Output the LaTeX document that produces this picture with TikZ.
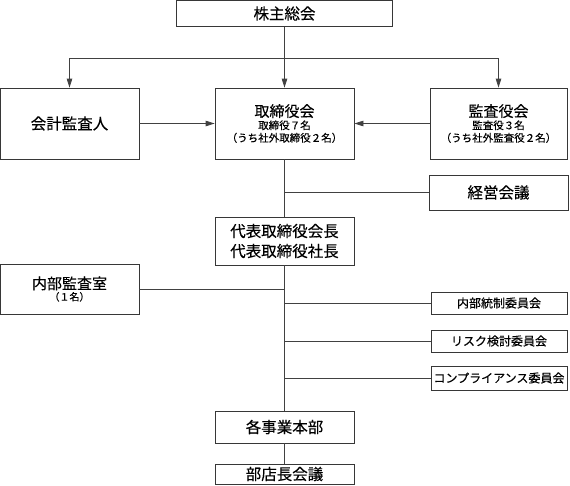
\documentclass[tikz,border=0pt]{standalone}
\usepackage{fontspec}
\newfontfamily\jpfont[FakeBold=0.3]{Noto Sans CJK JP}
\usetikzlibrary{arrows.meta}

\newcommand{\mainsize}{\fontsize{15}{15}\selectfont}
\newcommand{\subsize}{\fontsize{10.5}{12.5}\selectfont}

\tikzset{every picture/.style={line width=0.8pt}}
\tikzset{
	orgbox/.style={draw={rgb, 255:red, 55; green, 55; blue, 55}, fill=white, inner sep=0pt, align=center, font=\jpfont\fontsize{15.5}{20}\selectfont},
	smallbox/.style={orgbox, font=\jpfont\fontsize{12}{14}\selectfont},
	link/.style={draw={rgb, 255:red, 65; green, 65; blue, 65}},
	linkarrow/.style={link, -{Triangle[length=9pt,width=5.5pt]}},
}

\begin{document}
\begin{tikzpicture}[x=1pt,y=1pt,yscale=-1,xscale=1]
	\useasboundingbox (0,0) rectangle (570,485);

	% Top
	\node [orgbox, minimum width=216, minimum height=26] (soukai) at (284.5,13.5) {株主総会};

	% Board row
	\node [orgbox, minimum width=139, minimum height=71] (kaikei) at (69.5,123.5) {会計監査人};
	\node [orgbox, minimum width=139, minimum height=71, font=\jpfont\subsize] (torishimari) at (284.5,123.5) {{\mainsize 取締役会}\\取締役７名\\（うち社外取締役２名）};
	\node [orgbox, minimum width=137, minimum height=71, font=\jpfont\subsize] (kansa) at (498.5,123.5) {{\mainsize 監査役会}\\監査役３名\\（うち社外監査役２名）};

	% Management
	\node [orgbox, minimum width=139, minimum height=35] (keiei) at (498.5,192.5) {経営会議};
	\node [orgbox, minimum width=139, minimum height=48] (daihyo) at (284.5,241) {代表取締役会長\\代表取締役社長};
	\node [orgbox, minimum width=139, minimum height=50, font=\jpfont\fontsize{10}{11.5}\selectfont] (naibukansa) at (69.5,289) {{\mainsize 内部監査室}\\（１名）};

	% Committees
	\node [smallbox, minimum width=136, minimum height=22] (tousei) at (499,303) {内部統制委員会};
	\node [smallbox, minimum width=136, minimum height=22] (risk) at (499,341) {リスク検討委員会};
	\node [smallbox, minimum width=136, minimum height=24] (comp) at (499,378) {コンプライアンス委員会};

	% Bottom
	\node [orgbox, minimum width=139, minimum height=32] (jigyou) at (284.5,427) {各事業本部};
	\node [orgbox, minimum width=139, minimum height=20] (buten) at (284.5,474) {部店長会議};

	% Connections
	\coordinate (split) at (284.5,58);
	\draw [linkarrow] (soukai) -- (torishimari);
	\draw [linkarrow] (split) -| (kaikei);
	\draw [linkarrow] (split) -| (kansa);
	\draw [linkarrow] (kaikei) -- (torishimari);
	\draw [linkarrow] (kansa) -- (torishimari);

	\draw [link] (torishimari) -- (daihyo);
	\draw [link] (daihyo) -- (jigyou);
	\draw [link] (jigyou) -- (buten);
	\draw [link] (keiei) -- (keiei -| torishimari);
	\draw [link] (naibukansa) -- (naibukansa -| daihyo);
	\draw [link] (tousei) -- (tousei -| daihyo);
	\draw [link] (risk) -- (risk -| daihyo);
	\draw [link] (comp) -- (comp -| daihyo);

\end{tikzpicture}
\end{document}
